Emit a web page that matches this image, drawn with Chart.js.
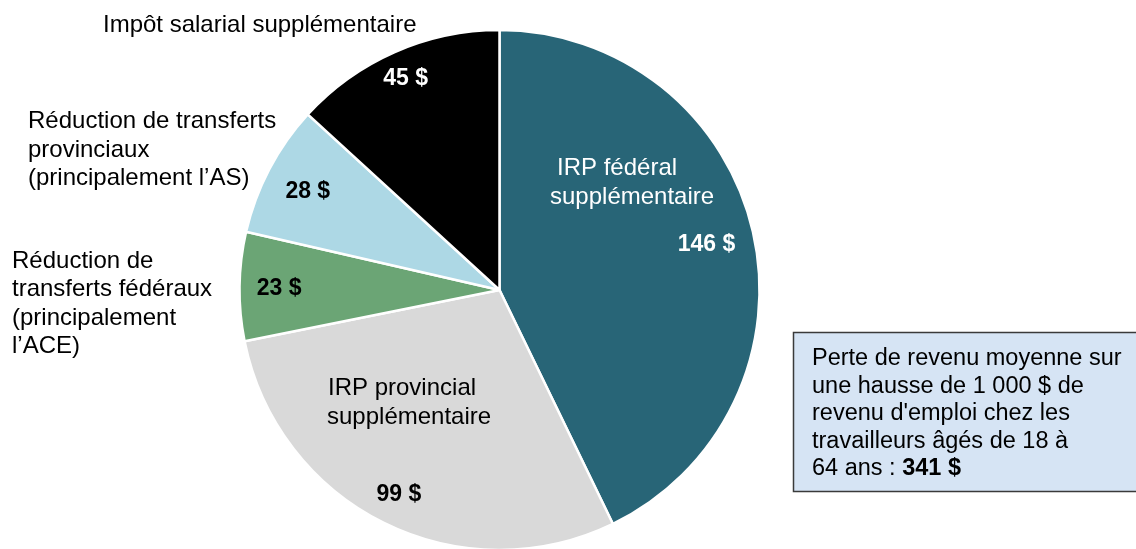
<!DOCTYPE html>
<html lang="fr">
<head>
<meta charset="utf-8">
<title>Perte de revenu sur une hausse de 1 000 $ de revenu d'emploi</title>
<script src="https://cdn.jsdelivr.net/npm/chart.js@4.4.1/dist/chart.umd.min.js"></script>
<style>
  html, body { margin: 0; padding: 0; background: #ffffff; overflow: hidden; }
  #wrap { position: relative; width: 1136px; height: 549px; overflow: hidden; }
  canvas { display: block; }
</style>
</head>
<body>
<div id="wrap"><canvas id="pie" width="1136" height="580"></canvas></div>
<script>
// Composantes de la perte de revenu ($ par tranche de 1 000 $ de revenu d'emploi)
const categories = [
  'IRP fédéral supplémentaire',
  'IRP provincial supplémentaire',
  'Réduction de transferts fédéraux (principalement l’ACE)',
  'Réduction de transferts provinciaux (principalement l’AS)',
  'Impôt salarial supplémentaire'
];
const values = [146, 99, 23, 28, 45];
const sliceColors = ['#286577', '#d9d9d9', '#6ba575', '#add8e5', '#000000'];
const valueTextColors = ['#ffffff', '#000000', '#000000', '#000000', '#ffffff'];
// distance of each value label from the centre, as a share of the radius
const valueLabelRadius = [0.817, 0.87, 0.848, 0.833, 0.896];

// Category captions, one block of lines per slice
const captionLines = [
  ['IRP fédéral', 'supplémentaire'],
  ['IRP provincial', 'supplémentaire'],
  ['Réduction de', 'transferts fédéraux', '(principalement', 'l’ACE)'],
  ['Réduction de transferts', 'provinciaux', '(principalement l’AS)'],
  ['Impôt salarial supplémentaire']
];
const captionLayout = [
  { x: [557, 550], y: 175, lh: 29, color: '#ffffff' },
  { x: [328, 327], y: 395, lh: 28.5, color: '#000000' },
  { x: [12, 12, 12, 12], y: 268, lh: 28.3, color: '#000000' },
  { x: [28, 28, 28], y: 128, lh: 28.5, color: '#000000' },
  { x: [103], y: 32, lh: 29, color: '#000000' }
];

const fmt = v => v.toLocaleString('fr-CA').replace(/\u202f|\u00a0/g, ' ') + ' $';
const total = values.reduce((a, b) => a + b, 0);
const summaryLines = [
  'Perte de revenu moyenne sur',
  'une hausse de 1 000 $ de',
  'revenu d\'emploi chez les',
  'travailleurs âgés de 18 à'
];
const summaryLastLead = '64 ans : ';

const FONT = '"Liberation Sans", Arial, Helvetica, sans-serif';

const labelsPlugin = {
  id: 'sliceLabels',
  afterDatasetsDraw(chart) {
    const ctx = chart.ctx;
    const arcs = chart.getDatasetMeta(0).data;
    ctx.save();

    // value labels, placed along each slice's mid-angle
    ctx.font = 'bold 23px ' + FONT;
    ctx.textAlign = 'center';
    ctx.textBaseline = 'alphabetic';
    arcs.forEach((arc, i) => {
      const mid = (arc.startAngle + arc.endAngle) / 2;
      const r = arc.outerRadius * valueLabelRadius[i];
      const cx = arc.x + Math.cos(mid) * r;
      const cy = arc.y + Math.sin(mid) * r;
      ctx.fillStyle = valueTextColors[i];
      ctx.fillText(fmt(values[i]), cx, cy + 8.3);
    });

    // category captions
    ctx.font = '24px ' + FONT;
    ctx.textAlign = 'left';
    captionLines.forEach((lines, i) => {
      const L = captionLayout[i];
      ctx.fillStyle = L.color;
      lines.forEach((t, j) => ctx.fillText(t, L.x[j], L.y + j * L.lh));
    });

    // summary box
    const bx = 793.5, by = 332.5, bw = 360, bh = 159;
    ctx.fillStyle = '#d6e4f4';
    ctx.fillRect(bx, by, bw, bh);
    ctx.strokeStyle = '#3a3a3a';
    ctx.lineWidth = 1.5;
    ctx.strokeRect(bx, by, bw, bh);

    ctx.fillStyle = '#000000';
    ctx.font = '23.5px ' + FONT;
    const tx = 812, ty = 365, lh = 27.5;
    summaryLines.forEach((t, j) => ctx.fillText(t, tx, ty + j * lh));
    const lastY = ty + summaryLines.length * lh;
    ctx.fillText(summaryLastLead, tx, lastY);
    const w = ctx.measureText(summaryLastLead).width;
    ctx.font = 'bold 23.5px ' + FONT;
    ctx.fillText(fmt(total), tx + w, lastY);

    ctx.restore();
  }
};

new Chart(document.getElementById('pie'), {
  type: 'pie',
  data: {
    labels: categories,
    datasets: [{
      data: values,
      backgroundColor: sliceColors,
      borderColor: '#ffffff',
      borderWidth: 2.5,
      hoverOffset: 0
    }]
  },
  options: {
    responsive: false,
    devicePixelRatio: 1,
    animation: false,
    events: [],
    layout: { padding: { top: 28.75, bottom: 28.75, left: 0, right: 137 } },
    plugins: {
      legend: { display: false },
      tooltip: { enabled: false },
      title: { display: false }
    }
  },
  plugins: [labelsPlugin]
});
</script>
</body>
</html>
